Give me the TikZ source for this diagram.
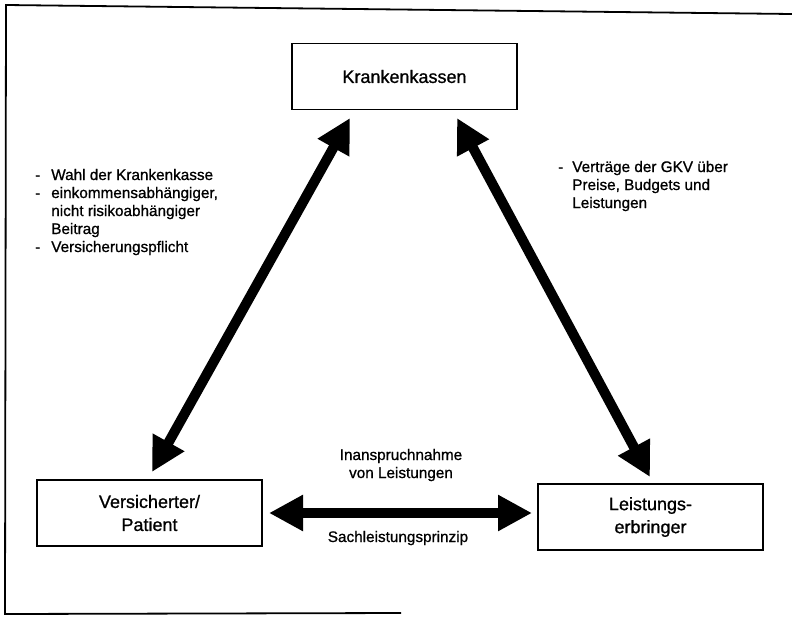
\documentclass[tikz,border=0pt]{standalone}
\usepackage{fontspec}
\setmainfont{Liberation Sans}[FakeBold=0.9]
\usetikzlibrary{arrows.meta}

\tikzset{
  party/.style={draw, line width=1.6pt, minimum width=225pt, minimum height=66pt,
    inner sep=0pt, align=center, font=\fontsize{18}{23}\selectfont},
  note/.style={inner sep=0pt, font=\fontsize{15.3}{18}\selectfont},
  bigarrow/.style={line width=10pt,
    {Triangle[length=34pt,width=34pt]}-{Triangle[length=34pt,width=34pt]}},
  frame/.style={line width=1.8pt}
}

\begin{document}
\begin{tikzpicture}[x=1pt,y=-1pt]
\useasboundingbox (0,0) rectangle (792,616);

% open outer frame
\draw[frame] (792,14) -- (6,5) -- (5,614) -- (401,613);

% the three parties
\node[party] (kk) at (404.5,76.5) {Krankenkassen};
\node[party] (vp) at (149.5,513) {Versicherter/\\Patient};
\node[party] (le) at (650.5,517) {Leistungs-\\erbringer};

% arrow end points just off the boxes
\coordinate (kkL) at (350,118);
\coordinate (kkR) at (457,118);
\coordinate (vpT) at (152,472);
\coordinate (leT) at (650,477);
\coordinate (vpR) at (269,513);
\coordinate (leL) at (532,513);

\draw[bigarrow] (vpT) -- (kkL);
\draw[bigarrow] (kkR) -- (leT);
\draw[bigarrow] (vpR) -- (leL);

% relations
\node[note, anchor=base west] (lnote) at (35,180) {%
  \begin{tabular}[t]{@{}l@{\hspace{11pt}}l@{}}
  - & Wahl der Krankenkasse\\
  - & einkommensabhängiger,\\
    & nicht risikoabhängiger\\
    & Beitrag\\
  - & Versicherungspflicht
  \end{tabular}};

\node[note, anchor=base west] (rnote) at (558,172) {%
  \begin{tabular}[t]{@{}l@{\hspace{9pt}}l@{}}
  - & Verträge der GKV über\\
    & Preise, Budgets und\\
    & Leistungen
  \end{tabular}};

\node[note, anchor=base, align=center] (top) at (401,478)
  {Inanspruchnahme\\von Leistungen};
\node[note, anchor=base] (bottom) at (398,542) {Sachleistungsprinzip};
\end{tikzpicture}
\end{document}
